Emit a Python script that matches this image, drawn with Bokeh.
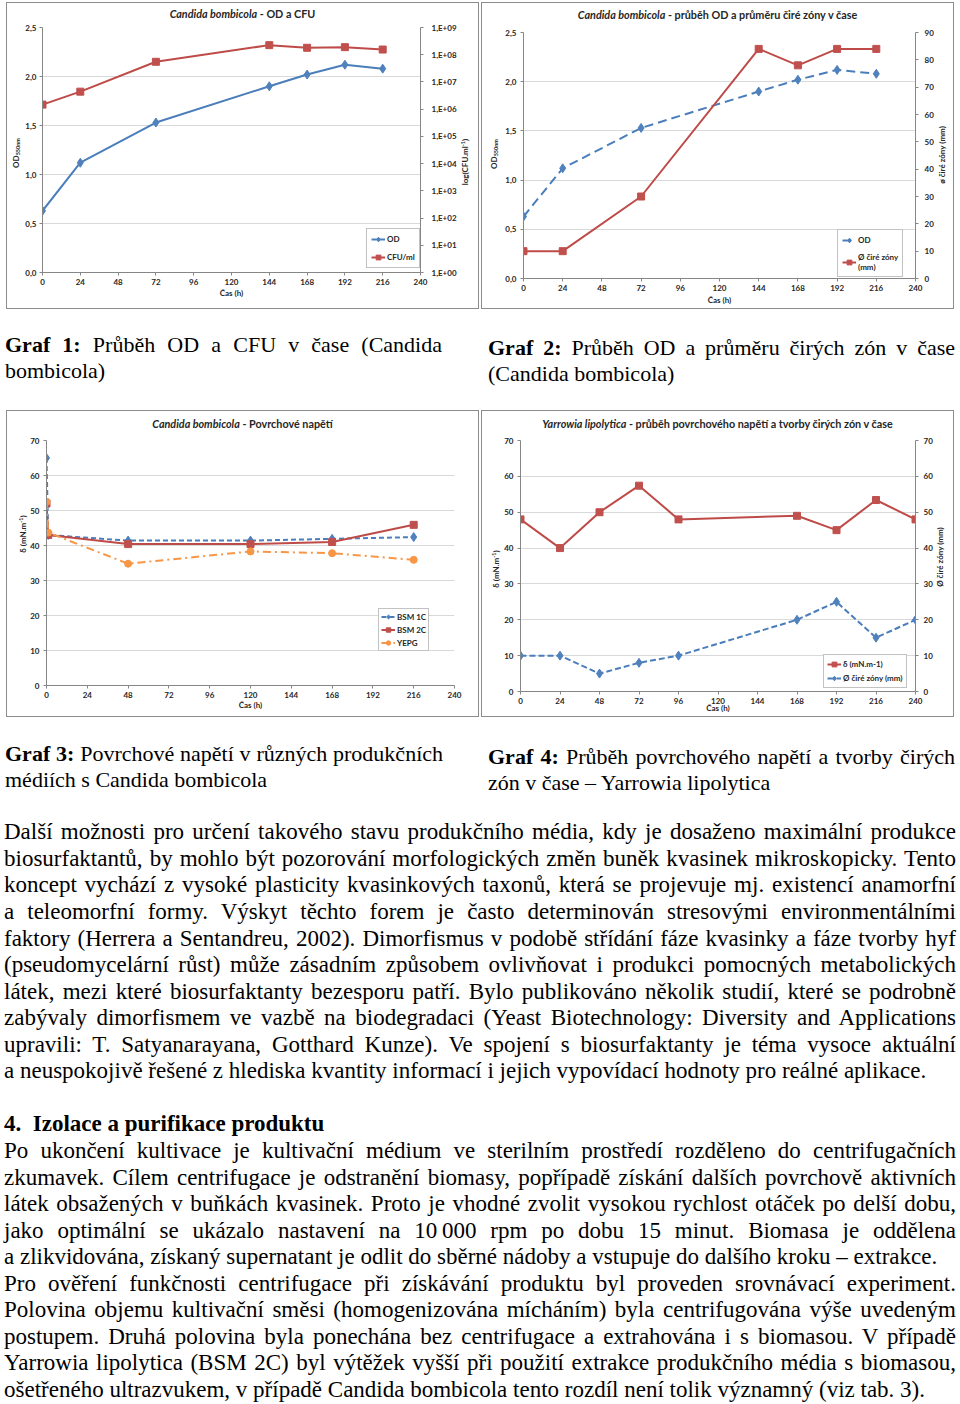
import math
from bokeh.plotting import figure
from bokeh.models import (Range1d, LinearAxis, LogAxis, LogScale, FixedTicker,
                          CustomJSTickFormatter, Legend, LegendItem, Div)
from bokeh.layouts import row, column
from bokeh.embed import file_html
from bokeh.resources import INLINE

# ---------------- data ----------------
x_ticks = [0, 24, 48, 72, 96, 120, 144, 168, 192, 216, 240]
od_ticks = [0.0, 0.5, 1.0, 1.5, 2.0, 2.5]
cfu_ticks = [1, 10, 100, 1e3, 1e4, 1e5, 1e6, 1e7, 1e8, 1e9]
zone_ticks2 = [0, 10, 20, 30, 40, 50, 60, 70, 80, 90]
st_ticks = [0, 10, 20, 30, 40, 50, 60, 70]

hours_cb = [0, 24, 72, 144, 168, 192, 216]
od_cb = [0.63, 1.12, 1.53, 1.90, 2.02, 2.12, 2.08]
cfu_cb = [1.47e6, 4.4e6, 5.5e7, 2.25e8, 1.8e8, 1.9e8, 1.55e8]
zone_cb = [10, 10, 30, 84, 78, 84, 84]

hours_st = [0, 1, 48, 120, 168, 216]
bsm1c = [65.0, 43.0, 41.4, 41.4, 41.9, 42.4]
bsm2c = [52.0, 43.0, 40.4, 40.4, 41.0, 45.9]
yepg = [52.5, 43.7, 34.8, 38.3, 37.8, 35.9]

hours_yl = [0, 24, 48, 72, 96, 168, 192, 216, 240]
st_yl = [48.0, 40.0, 50.0, 57.4, 48.0, 49.0, 45.0, 53.4, 48.0]
zone_yl = [10, 10, 5, 8, 10, 20, 25, 15, 20]

# ---------------- style ----------------
FONT = "Lato"
SERIF = "Liberation Serif"
BLUE = "#4A7EBB"
BLUE_M = "#4F81BD"
RED = "#BE4B48"
RED_M = "#C0504D"
ORANGE = "#F79646"
GRID = "#D9D9D9"
AXIS = "#868686"
TXT = "#262626"

comma_fmt = CustomJSTickFormatter(code="return tick.toFixed(1).replace('.', ',');")
int_fmt = CustomJSTickFormatter(code="return tick.toFixed(0);")
exp_fmt = CustomJSTickFormatter(code="""
const e = Math.round(Math.log10(tick));
return '1,E+' + (e < 10 ? '0' : '') + e;
""")


def style_axis(ax, standoff=4, label="", label_standoff=0):
    ax.axis_line_color = AXIS
    ax.axis_line_width = 1
    ax.major_tick_line_color = AXIS
    ax.major_tick_out = 3
    ax.major_tick_in = 0
    ax.minor_tick_out = 0
    ax.minor_tick_in = 0
    ax.major_label_text_font = FONT
    ax.major_label_text_font_size = "8px"
    ax.major_label_text_font_style = "bold"
    ax.major_label_text_color = TXT
    ax.major_label_standoff = standoff
    if label:
        ax.axis_label = label
        ax.axis_label_standoff = label_standoff
        ax.axis_label_text_font = FONT
        ax.axis_label_text_font_size = "8px"
        ax.axis_label_text_font_style = "bold"
        ax.axis_label_text_color = TXT


def make_fig(w, h, bl, br, bt, bb, ymax, yticks, yfmt, xls, ystand):
    p = figure(width=w, height=h, x_range=Range1d(0, 240), y_range=Range1d(0, ymax),
               output_backend="svg", toolbar_location=None,
               min_border_left=bl, min_border_right=br,
               min_border_top=bt, min_border_bottom=bb, margin=0)
    p.outline_line_color = None
    p.background_fill_color = "white"
    p.border_fill_color = "white"
    p.xgrid.grid_line_color = None
    p.ygrid.grid_line_color = GRID
    p.ygrid.grid_line_width = 1
    p.xaxis.ticker = FixedTicker(ticks=x_ticks)
    p.xaxis.formatter = int_fmt
    p.yaxis.ticker = FixedTicker(ticks=yticks)
    p.yaxis.formatter = yfmt
    style_axis(p.xaxis[0], 3, "Čas (h)", xls)
    style_axis(p.yaxis[0], ystand)
    return p


def legend(p, items, loc, pad, lh, sp):
    lg = Legend(items=items, location=loc, margin=0, padding=pad, spacing=sp,
                label_height=lh, glyph_height=lh, glyph_width=14, label_standoff=2,
                border_line_color=AXIS, border_line_width=1,
                background_fill_color="white", background_fill_alpha=1.0,
                label_text_font=FONT, label_text_font_size="8px",
                label_text_font_style="bold", label_text_color=TXT)
    p.add_layout(lg)


CHART_CSS = f"font-family:'{FONT}';font-weight:bold;color:{TXT};"


def title_div(html, w, h, cy):
    return Div(text=(f'<div style="{CHART_CSS}font-size:10.8px;line-height:12px;width:{w}px;'
                     f'text-align:center;padding-top:{cy - 6}px;white-space:nowrap;">{html}</div>'),
               width=w, height=h, margin=0)


def vlabel_div(html, w, h, cx, cy):
    return Div(text=(f'<div style="position:relative;width:{w}px;height:{h}px;">'
                     f'<div style="position:absolute;left:{cx}px;top:{cy}px;{CHART_CSS}'
                     f'font-size:8px;line-height:9px;white-space:nowrap;'
                     f'transform:translate(-50%,-50%) rotate(-90deg);">{html}</div></div>'),
               width=w, height=h, margin=0)


def spacer(w, h):
    return Div(text="", width=w, height=h, margin=0)


def chart(parts):
    return column(*parts, spacing=0, margin=0,
                  styles={"outline": "1px solid #8c8c8c"})


SUB = '<span style="font-size:5.5px;vertical-align:-1px;">'
SUP = '<span style="font-size:5.5px;vertical-align:3px;">'
OD_LAB = f"OD{SUB}550nm</span>"
ST_LAB = f"δ (mN.m{SUP}-1</span>)"
W = 471

# ---------------- Chart 1 ----------------
p1 = make_fig(437, 281, 18, 37, 6, 30, 2.5, od_ticks, comma_fmt, 0, 3)
p1.extra_y_ranges = {"cfu": Range1d(1, 1e9)}
p1.extra_y_scales = {"cfu": LogScale()}
ax_r1 = LogAxis(y_range_name="cfu", ticker=FixedTicker(ticks=cfu_ticks), formatter=exp_fmt)
style_axis(ax_r1, 8)
p1.add_layout(ax_r1, "right")
l1a = p1.line(hours_cb, od_cb, color=BLUE, line_width=2)
s1a = p1.scatter(hours_cb, od_cb, marker="diamond", size=9, color=BLUE_M)
l1b = p1.line(hours_cb, cfu_cb, color=RED, line_width=2, y_range_name="cfu")
s1b = p1.scatter(hours_cb, cfu_cb, marker="square", size=7, color=RED_M, y_range_name="cfu")
legend(p1, [LegendItem(label="OD", renderers=[l1a, s1a]),
            LegendItem(label="CFU/ml", renderers=[l1b, s1b])], (324, 4), 4, 12, 6)
c1 = chart([title_div("<i>Candida bombicola</i> - OD a CFU", W, 18, 11),
            row(vlabel_div(OD_LAB, 15, 281, 10, 132), p1,
                vlabel_div(f"log(CFU.ml{SUP}-1</span>)", 19, 281, 5, 141), spacing=0, margin=0),
            spacer(W, 6)])

# ---------------- Chart 2 ----------------
p2 = make_fig(434, 282, 19, 20, 6, 30, 2.5, od_ticks, comma_fmt, 1, 4)
p2.extra_y_ranges = {"zone": Range1d(0, 90)}
ax_r2 = LinearAxis(y_range_name="zone", ticker=FixedTicker(ticks=zone_ticks2), formatter=int_fmt)
style_axis(ax_r2, 6)
p2.add_layout(ax_r2, "right")
l2a = p2.line(hours_cb, od_cb, color=BLUE, line_width=2, line_dash="9 5")
s2a = p2.scatter(hours_cb, od_cb, marker="diamond", size=9, color=BLUE_M)
l2b = p2.line(hours_cb, zone_cb, color=RED, line_width=2, y_range_name="zone")
s2b = p2.scatter(hours_cb, zone_cb, marker="square", size=7, color=RED_M, y_range_name="zone")
legend(p2, [LegendItem(label="OD", renderers=[l2a, s2a]),
            LegendItem(label="Ø čiré zóny\n(mm)", renderers=[l2b, s2b])], (314, 1), 4, 12, 6)
c2 = chart([title_div("<i>Candida bombicola</i> - průběh OD a průměru čiré zóny v čase", W, 23, 12),
            row(vlabel_div(OD_LAB, 20, 282, 13, 128), p2,
                vlabel_div("ø čiré zóny (mm)", 17, 282, 6, 129), spacing=0, margin=0)])

# ---------------- Chart 3 ----------------
p3 = make_fig(451, 282, 18, 24, 10, 25, 70, st_ticks, int_fmt, -1, 4)
l3a = p3.line(hours_st, bsm1c, color=BLUE, line_width=2, line_dash="5 3")
s3a = p3.scatter(hours_st, bsm1c, marker="diamond", size=9, color=BLUE_M)
l3b = p3.line(hours_st, bsm2c, color=RED, line_width=2)
s3b = p3.scatter(hours_st, bsm2c, marker="square", size=7, color=RED_M)
l3c = p3.line(hours_st, yepg, color=ORANGE, line_width=2, line_dash="8 4 2 4")
s3c = p3.scatter(hours_st, yepg, marker="circle", size=7, color=ORANGE)
legend(p3, [LegendItem(label="BSM 1C", renderers=[l3a, s3a]),
            LegendItem(label="BSM 2C", renderers=[l3b, s3b]),
            LegendItem(label="YEPG", renderers=[l3c, s3c])], (332, 34), 2, 11, 2)
c3 = chart([title_div("<i>Candida bombicola</i> - Povrchové napětí", W, 19, 13),
            row(vlabel_div(ST_LAB, 20, 282, 14.7, 104), p3, spacing=0, margin=0),
            spacer(W, 4)])

# ---------------- Chart 4 ----------------
p4 = make_fig(434, 286, 19, 18, 10, 25, 70, st_ticks, int_fmt, -4, 4)
p4.extra_y_ranges = {"zone": Range1d(0, 70)}
ax_r4 = LinearAxis(y_range_name="zone", ticker=FixedTicker(ticks=st_ticks), formatter=int_fmt)
style_axis(ax_r4, 5)
p4.add_layout(ax_r4, "right")
l4a = p4.line(hours_yl, st_yl, color=RED, line_width=2)
s4a = p4.scatter(hours_yl, st_yl, marker="square", size=7, color=RED_M)
l4b = p4.line(hours_yl, zone_yl, color=BLUE, line_width=2, line_dash="6 3", y_range_name="zone")
s4b = p4.scatter(hours_yl, zone_yl, marker="diamond", size=9, color=BLUE_M, y_range_name="zone")
legend(p4, [LegendItem(label="δ (mN.m-1)", renderers=[l4a, s4a]),
            LegendItem(label="Ø čiré zóny (mm)", renderers=[l4b, s4b])], (303, 3), 3, 12, 2)
c4 = chart([title_div("<i>Yarrowia lipolytica</i> - průběh povrchového napětí a tvorby čirých zón v čase",
                      W, 19, 13),
            row(vlabel_div(ST_LAB, 19, 286, 13, 139), p4,
                vlabel_div("Ø čiré zóny (mm)", 18, 286, 5, 127), spacing=0, margin=0)])

# ---------------- text ----------------
cap1 = ["<b>Graf 1:</b> Průběh OD a CFU v čase (Candida", "bombicola)"]
cap2 = ["<b>Graf 2:</b> Průběh OD a průměru čirých zón v čase", "(Candida bombicola)"]
cap3 = ["<b>Graf 3:</b> Povrchové napětí v různých produkčních", "médiích s Candida bombicola"]
cap4 = ["<b>Graf 4:</b> Průběh povrchového napětí a tvorby čirých", "zón v čase – Yarrowia lipolytica"]

para1 = [
    "Další možnosti pro určení takového stavu produkčního média, kdy je dosaženo maximální produkce",
    "biosurfaktantů, by mohlo být pozorování morfologických změn buněk kvasinek mikroskopicky. Tento",
    "koncept vychází z vysoké plasticity kvasinkových taxonů, která se projevuje mj. existencí anamorfní",
    "a teleomorfní formy. Výskyt těchto forem je často determinován stresovými environmentálními",
    "faktory (Herrera a Sentandreu, 2002). Dimorfismus v podobě střídání fáze kvasinky a fáze tvorby hyf",
    "(pseudomycelární růst) může zásadním způsobem ovlivňovat i produkci pomocných metabolických",
    "látek, mezi které biosurfaktanty bezesporu patří. Bylo publikováno několik studií, které se podrobně",
    "zabývaly dimorfismem ve vazbě na biodegradaci (Yeast Biotechnology: Diversity and Applications",
    "upravili: T. Satyanarayana, Gotthard Kunze). Ve spojení s biosurfaktanty je téma vysoce aktuální",
    "a neuspokojivě řešené z hlediska kvantity informací i jejich vypovídací hodnoty pro reálné aplikace.",
]
heading = "4.&nbsp; Izolace a purifikace produktu"
para2a = [
    "Po ukončení kultivace je kultivační médium ve sterilním prostředí rozděleno do centrifugačních",
    "zkumavek. Cílem centrifugace je odstranění biomasy, popřípadě získání dalších povrchově aktivních",
    "látek obsažených v buňkách kvasinek. Proto je vhodné zvolit vysokou rychlost otáček po delší dobu,",
    "jako optimální se ukázalo nastavení na 10&#8201;000 rpm po dobu 15 minut. Biomasa je oddělena",
    "a zlikvidována, získaný supernatant je odlit do sběrné nádoby a vstupuje do dalšího kroku – extrakce.",
]
para2b = [
    "Pro ověření funkčnosti centrifugace při získávání produktu byl proveden srovnávací experiment.",
    "Polovina objemu kultivační směsi (homogenizována mícháním) byla centrifugována výše uvedeným",
    "postupem. Druhá polovina byla ponechána bez centrifugace a extrahována i s biomasou. V případě",
    "Yarrowia lipolytica (BSM 2C) byl výtěžek vyšší při použití extrakce produkčního média s biomasou,",
    "ošetřeného ultrazvukem, v případě Candida bombicola tento rozdíl není tolik významný (viz tab. 3).",
]

LH = 26.55


def block(lines):
    out = []
    for i, t in enumerate(lines):
        a = "left" if i == len(lines) - 1 else "justify"
        out.append(f'<div style="text-align:{a};text-align-last:{a};height:{LH}px;'
                   f'line-height:{LH}px;white-space:nowrap;">{t}</div>')
    return "".join(out)


def wrap(inner, ml, w, pt, fs):
    return (f'<div style="font-family:\'{SERIF}\';font-size:{fs}px;color:#000;'
            f'margin-left:{ml}px;width:{w}px;padding-top:{pt}px;">{inner}</div>')


d1 = Div(text=wrap(block(cap1), 5, 437, 23.7, 22), width=482, height=103, margin=0)
d2 = Div(text=wrap(block(cap2), 6, 467, 26.7, 22), width=478, height=103, margin=0)
d3 = Div(text=wrap(block(cap3), 5, 438, 24.7, 22), width=482, height=103, margin=0)
d4 = Div(text=wrap(block(cap4), 6, 467, 27.7, 22), width=478, height=103, margin=0)

body_html = (block(para1)
             + f'<div style="height:{LH}px"></div>'
             + f'<div style="font-weight:bold;height:{LH}px;line-height:{LH}px;">{heading}</div>'
             + block(para2a) + block(para2b))
d5 = Div(text=wrap(body_html, 4, 952, 0.4, 23), width=960, height=585, margin=0)

layout = column(row(c1, c2, spacing=4, margin=(0, 0, 0, 7)),
                row(d1, d2, spacing=0),
                row(c3, c4, spacing=4, margin=(0, 0, 0, 7)),
                row(d3, d4, spacing=0),
                d5,
                spacing=0, margin=(3, 0, 0, 0))

with open("out.html", "w", encoding="utf-8") as f:
    f.write(file_html(layout, INLINE, title="Graf"))
